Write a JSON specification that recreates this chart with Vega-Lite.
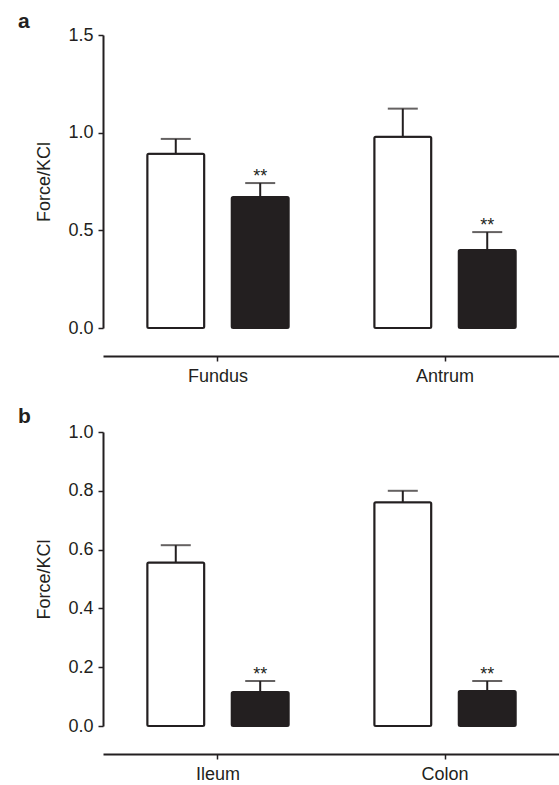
{
  "$schema": "https://vega.github.io/schema/vega-lite/v6.json",
  "padding": {"left": 17, "top": 11, "right": 0, "bottom": 0},
  "background": "white",
  "config": {
    "view": {"stroke": null},
    "font": "Liberation Sans",
    "axis": {"labelFont": "Liberation Sans", "labelFontSize": 18, "labelColor": "#231f20", "titleFont": "Liberation Sans", "titleFontSize": 18, "titleFontWeight": "normal", "titleColor": "#231f20", "domainColor": "#231f20", "tickColor": "#231f20", "domainWidth": 2, "tickWidth": 1.5, "tickSize": 5, "grid": false},
    "title": {"font": "Liberation Sans", "fontSize": 21, "fontWeight": "bold", "anchor": "start", "color": "#231f20", "frame": "bounds"},
    "concat": {"spacing": 21}
  },
  "datasets": {
    "a": [
      {"region": "Fundus", "group": "Control", "mean": 0.892, "upper": 0.968, "sig": ""},
      {"region": "Fundus", "group": "Treated", "mean": 0.671, "upper": 0.742, "sig": "**"},
      {"region": "Antrum", "group": "Control", "mean": 0.979, "upper": 1.123, "sig": ""},
      {"region": "Antrum", "group": "Treated", "mean": 0.399, "upper": 0.491, "sig": "**"}
    ],
    "b": [
      {"region": "Ileum", "group": "Control", "mean": 0.556, "upper": 0.615, "sig": ""},
      {"region": "Ileum", "group": "Treated", "mean": 0.116, "upper": 0.153, "sig": "**"},
      {"region": "Colon", "group": "Control", "mean": 0.761, "upper": 0.800, "sig": ""},
      {"region": "Colon", "group": "Treated", "mean": 0.119, "upper": 0.153, "sig": "**"}
    ]
  },
  "vconcat": [
    {
      "title": {"text": "a", "dx": -18, "dy": 10},
      "width": 457,
      "height": 293,
      "data": {"name": "a"},
      "encoding": {
        "x": {"field": "region", "type": "nominal", "sort": ["Fundus", "Antrum"], "scale": {"paddingInner": 0.377, "paddingOuter": 0.195}, "axis": {"title": null, "labelAngle": 0, "offset": 28, "labelPadding": 6}},
        "xOffset": {"field": "group", "type": "nominal", "sort": ["Control", "Treated"], "scale": {"paddingInner": 0.325, "paddingOuter": 0}}
      },
      "layer": [
        {"mark": {"type": "bar", "stroke": "#231f20", "strokeWidth": 2, "cornerRadius": 1.5},
         "encoding": {
           "y": {"field": "mean", "type": "quantitative", "title": "Force/KCl", "scale": {"domain": [0, 1.5], "nice": false}, "axis": {"values": [0, 0.5, 1, 1.5], "format": ".1f", "titlePadding": 14, "labelPadding": 5}},
           "color": {"field": "group", "type": "nominal", "scale": {"domain": ["Control", "Treated"], "range": ["#ffffff", "#231f20"]}, "legend": null}
         }},
        {"mark": {"type": "rule", "strokeWidth": 2, "color": "#231f20"},
         "encoding": {"y": {"field": "mean", "type": "quantitative", "title": "Force/KCl"}, "y2": {"field": "upper"}}},
        {"mark": {"type": "tick", "size": 30, "thickness": 2, "color": "#231f20"},
         "encoding": {"y": {"field": "upper", "type": "quantitative", "title": "Force/KCl"}}},
        {"mark": {"type": "text", "fontSize": 18, "baseline": "alphabetic", "dy": -1, "color": "#231f20", "font": "Liberation Sans"},
         "encoding": {"y": {"field": "upper", "type": "quantitative", "title": "Force/KCl"}, "text": {"field": "sig"}}}
      ]
    },
    {
      "title": {"text": "b", "dx": -18, "dy": 8},
      "width": 457,
      "height": 294,
      "data": {"name": "b"},
      "encoding": {
        "x": {"field": "region", "type": "nominal", "sort": ["Ileum", "Colon"], "scale": {"paddingInner": 0.377, "paddingOuter": 0.195}, "axis": {"title": null, "labelAngle": 0, "offset": 28, "labelPadding": 6}},
        "xOffset": {"field": "group", "type": "nominal", "sort": ["Control", "Treated"], "scale": {"paddingInner": 0.325, "paddingOuter": 0}}
      },
      "layer": [
        {"mark": {"type": "bar", "stroke": "#231f20", "strokeWidth": 2, "cornerRadius": 1.5},
         "encoding": {
           "y": {"field": "mean", "type": "quantitative", "title": "Force/KCl", "scale": {"domain": [0, 1.0], "nice": false}, "axis": {"values": [0, 0.2, 0.4, 0.6, 0.8, 1.0], "format": ".1f", "titlePadding": 14, "labelPadding": 5}},
           "color": {"field": "group", "type": "nominal", "scale": {"domain": ["Control", "Treated"], "range": ["#ffffff", "#231f20"]}, "legend": null}
         }},
        {"mark": {"type": "rule", "strokeWidth": 2, "color": "#231f20"},
         "encoding": {"y": {"field": "mean", "type": "quantitative", "title": "Force/KCl"}, "y2": {"field": "upper"}}},
        {"mark": {"type": "tick", "size": 30, "thickness": 2, "color": "#231f20"},
         "encoding": {"y": {"field": "upper", "type": "quantitative", "title": "Force/KCl"}}},
        {"mark": {"type": "text", "fontSize": 18, "baseline": "alphabetic", "dy": -1, "color": "#231f20", "font": "Liberation Sans"},
         "encoding": {"y": {"field": "upper", "type": "quantitative", "title": "Force/KCl"}, "text": {"field": "sig"}}}
      ]
    }
  ]
}
